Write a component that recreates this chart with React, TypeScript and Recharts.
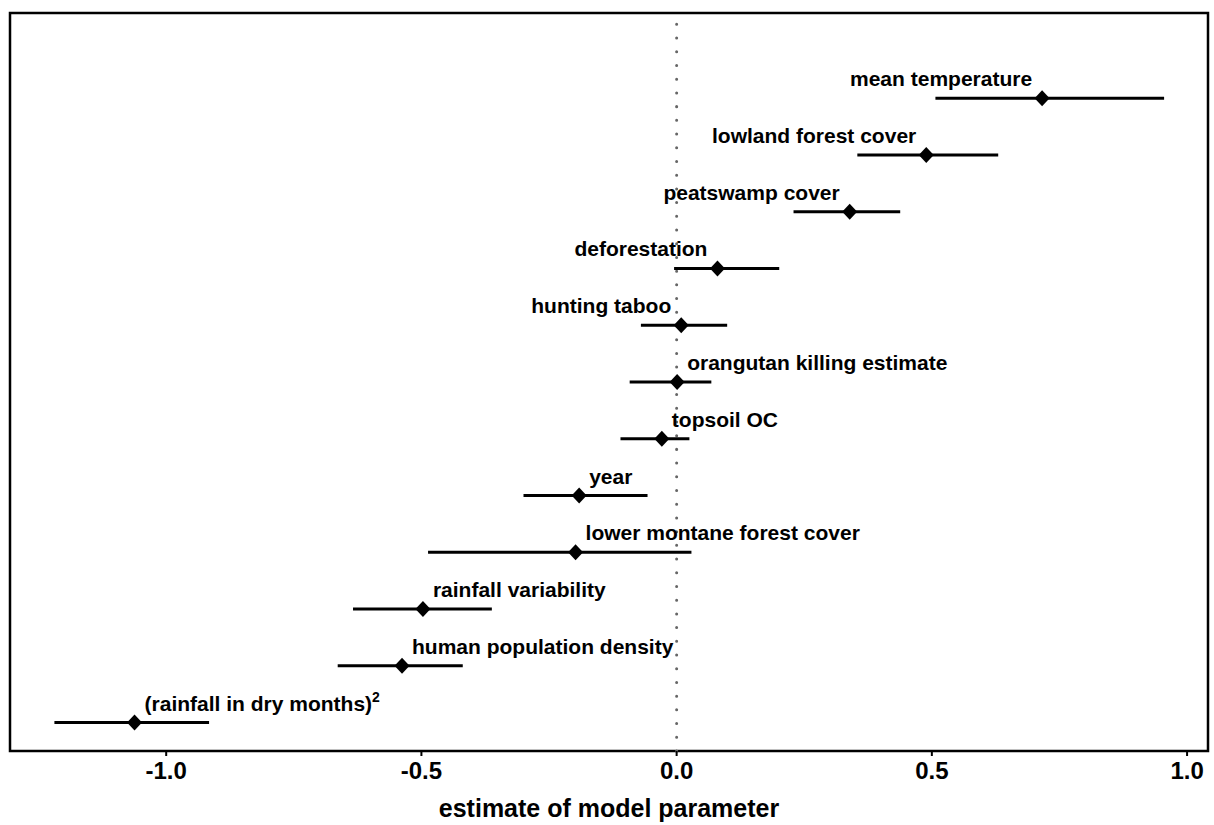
import React from 'react';
import { ScatterChart, Scatter, XAxis, YAxis, ErrorBar, ReferenceLine, ReferenceArea } from 'recharts';

// ---- data (top row first) ----
const LABELS = [
  'mean temperature',
  'lowland forest cover',
  'peatswamp cover',
  'deforestation',
  'hunting taboo',
  'orangutan killing estimate',
  'topsoil OC',
  'year',
  'lower montane forest cover',
  'rainfall variability',
  'human population density',
  '(rainfall in dry months)^2',
];
const ESTIMATES = [0.716, 0.489, 0.339, 0.08, 0.009, 0.001, -0.029, -0.191, -0.198, -0.497, -0.538, -1.062];
const LOWER = [0.507, 0.354, 0.229, -0.005, -0.07, -0.092, -0.11, -0.3, -0.487, -0.634, -0.664, -1.219];
const UPPER = [0.955, 0.63, 0.438, 0.201, 0.099, 0.068, 0.025, -0.057, 0.029, -0.362, -0.419, -0.916];
const X_TICKS = [-1.0, -0.5, 0.0, 0.5, 1.0];
const X_TITLE = 'estimate of model parameter';

// ---- config ----
const FONT = '"Liberation Sans", Arial, Helvetica, sans-serif';
const X_DOMAIN: [number, number] = [-1.306, 1.041];
const Y_DOMAIN: [number, number] = [0.5, 13.5];
const LEFT_LABEL_COUNT = 5; // top rows have their label to the left of the point

const data = LABELS.map((name, i) => ({
  name,
  est: ESTIMATES[i],
  row: LABELS.length - i,
  err: [ESTIMATES[i] - LOWER[i], UPPER[i] - ESTIMATES[i]],
  side: i < LEFT_LABEL_COUNT ? 'left' : 'right',
}));

const Marker = (props: any) => {
  const { cx, cy, payload } = props;
  if (cx == null || cy == null) return null;
  const [main, sup] = String(payload.name).split('^');
  const left = payload.side === 'left';
  return (
    <g>
      <polygon
        points={`${cx},${cy - 8} ${cx + 7.5},${cy} ${cx},${cy + 8} ${cx - 7.5},${cy}`}
        fill="#000"
      />
      <text
        x={left ? cx - 10 : cx + 10}
        y={cy - 12}
        textAnchor={left ? 'end' : 'start'}
        fontFamily={FONT}
        fontWeight="bold"
        fontSize={21}
        fill="#000"
      >
        {main}
        {sup ? (
          <tspan fontSize={14} dy={-9}>
            {sup}
          </tspan>
        ) : null}
      </text>
    </g>
  );
};

const TitleLabel = (props: any) => {
  const vb = props.viewBox || {};
  return (
    <text
      x={vb.x + vb.width / 2}
      y={vb.y + 66}
      textAnchor="middle"
      fontFamily={FONT}
      fontWeight="bold"
      fontSize={25}
      fill="#000"
    >
      {X_TITLE}
    </text>
  );
};

export default function App() {
  return (
    <div style={{ position: 'absolute', left: 0, top: 0, width: 1214, height: 825, background: '#fff' }}>
      <ScatterChart width={1214} height={825} margin={{ top: 13, right: 6, left: 10, bottom: 4 }}>
        <XAxis
          type="number"
          dataKey="est"
          domain={X_DOMAIN}
          allowDataOverflow
          ticks={X_TICKS}
          interval={0}
          tickFormatter={(v: number) => v.toFixed(1)}
          axisLine={false}
          tickLine={{ stroke: '#000', strokeWidth: 2 }}
          tickSize={5}
          tickMargin={6}
          tick={{ fill: '#000', fontSize: 24, fontWeight: 'bold', fontFamily: FONT }}
          height={70}
          label={{ content: TitleLabel }}
        />
        <YAxis type="number" dataKey="row" domain={Y_DOMAIN} allowDataOverflow hide />
        <ReferenceLine
          x={0}
          stroke="#666"
          strokeWidth={3}
          strokeDasharray="0.01 13.7"
          strokeLinecap="round"
        />
        <ReferenceArea
          x1={X_DOMAIN[0]}
          x2={X_DOMAIN[1]}
          y1={Y_DOMAIN[0]}
          y2={Y_DOMAIN[1]}
          fill="none"
          fillOpacity={0}
          stroke="#000"
          strokeWidth={2.5}
          ifOverflow="visible"
        />
        <Scatter data={data} shape={Marker} isAnimationActive={false}>
          <ErrorBar dataKey="err" direction="x" width={0} stroke="#000" strokeWidth={3} />
        </Scatter>
      </ScatterChart>
    </div>
  );
}
